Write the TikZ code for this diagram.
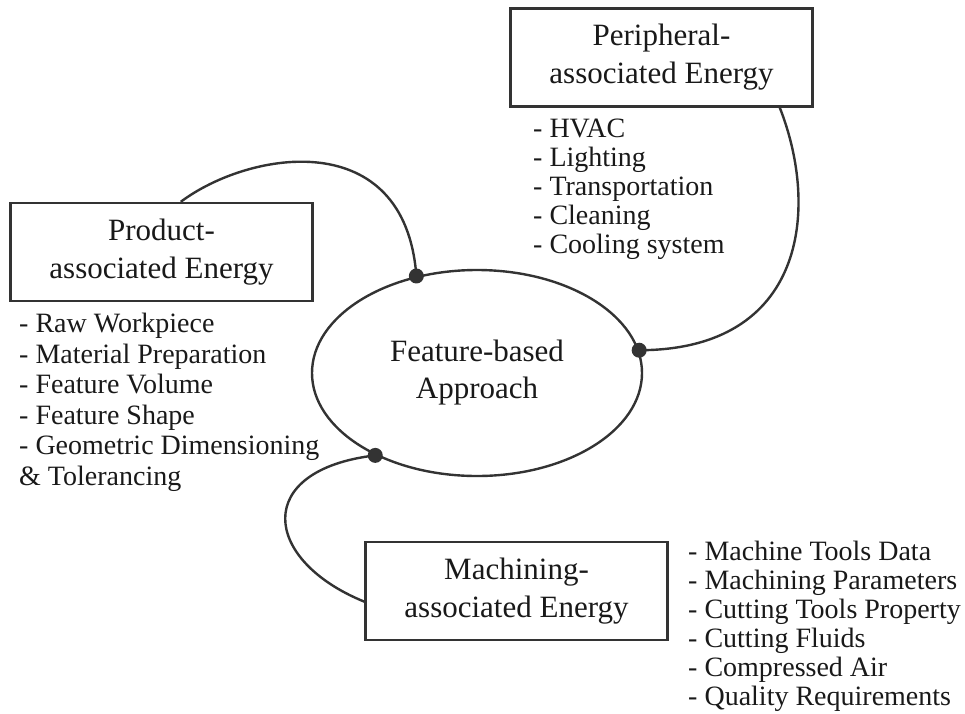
\documentclass[tikz,border=0pt]{standalone}
\usepackage{fontspec}
\setmainfont{Liberation Serif}
\usetikzlibrary{shapes.geometric}
\definecolor{inkgray}{HTML}{333333}

\begin{document}
\begin{tikzpicture}[x=1pt,y=-1pt,
        energybox/.style={draw=inkgray, line width=2.4pt, align=center, inner sep=0pt,
            minimum width=302pt, minimum height=98pt, text=black!90,
            font=\fontsize{31}{38}\selectfont},
        itemlist/.style={align=left, inner sep=0pt, anchor=north west, text=black!90,
            font=\fontsize{28}{29}\selectfont},
        link/.style={draw=inkgray, line width=2.4pt},
        joint/.style={fill=inkgray}]
    \useasboundingbox (0,0) rectangle (965,713);

    \node[ellipse, draw=inkgray, line width=2.4pt, inner sep=0pt, align=center,
        minimum width=330pt, minimum height=206pt, text=black!90,
        font=\fontsize{31}{37}\selectfont] (approach) at (477,373) {Feature-based\\Approach};

    \node[energybox] (product) at (161.5,252) {Product-\\associated Energy};
    \node[energybox] (peripheral) at (661.5,57.5) {Peripheral-\\associated Energy};
    \node[energybox] (machining) at (516.5,591) {Machining-\\associated Energy};

    \node[itemlist, font=\fontsize{28}{30.5}\selectfont] (productitems) at (19,313)
        {- Raw Workpiece\\- Material Preparation\\- Feature Volume\\- Feature Shape\\
         - Geometric Dimensioning\\\& Tolerancing};
    \node[itemlist] (peripheralitems) at (533,118.5)
        {- HVAC\\- Lighting\\- Transportation\\- Cleaning\\- Cooling system};
    \node[itemlist] (machiningitems) at (688,541)
        {- Machine Tools Data\\- Machining Parameters\\- Cutting Tools Property\\
         - Cutting Fluids\\- Compressed Air\\- Quality Requirements};

    \coordinate (topjoint) at (approach.122);
    \coordinate (rightjoint) at (approach.8.6);
    \coordinate (leftjoint) at (approach.219);

    \draw[link] (product.69) .. controls (250,150) and (405,125) .. (topjoint);
    \draw[link] (peripheral.337.4) .. controls (820,210) and (805,350) .. (rightjoint);
    \draw[link] (machining.184.5) .. controls (262,560) and (252,470) .. (leftjoint);

    \fill[joint] (topjoint) circle[radius=7.5pt];
    \fill[joint] (rightjoint) circle[radius=7.5pt];
    \fill[joint] (leftjoint) circle[radius=7.5pt];
\end{tikzpicture}
\end{document}
